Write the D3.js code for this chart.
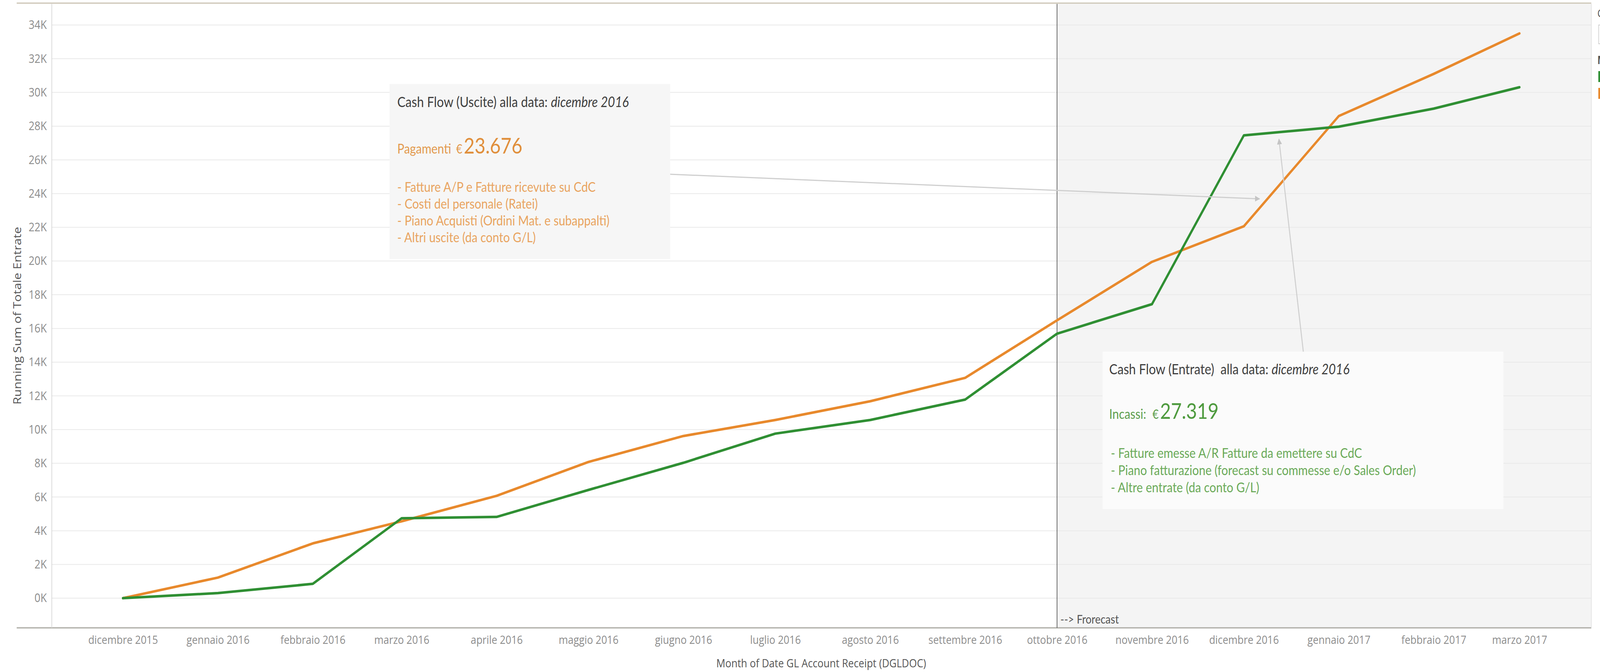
<!DOCTYPE html>
<html><head><meta charset="utf-8">
<script src="https://cdn.jsdelivr.net/npm/d3@7"></script>
<style>html,body{margin:0;padding:0;background:#fff;overflow:hidden} svg{display:block;width:100vw;height:100vh}</style>
</head><body>
<script>
// ---- data ----
const months = ["2015-12","2016-01","2016-02","2016-03","2016-04","2016-05","2016-06","2016-07","2016-08","2016-09","2016-10","2016-11","2016-12","2017-01","2017-02","2017-03"];
const monthLabels = ["dicembre 2015","gennaio 2016","febbraio 2016","marzo 2016","aprile 2016","maggio 2016","giugno 2016","luglio 2016","agosto 2016","settembre 2016","ottobre 2016","novembre 2016","dicembre 2016","gennaio 2017","febbraio 2017","marzo 2017"];
const entrate = [0, 300, 850, 4740, 4820, 6420, 8030, 9760, 10570, 11780, 15690, 17440, 27450, 27970, 29040, 30310];
const uscite  = [0, 1220, 3250, 4560, 6070, 8080, 9620, 10570, 11680, 13070, 16480, 19950, 22060, 28600, 31100, 33500];
const yTicks = [0,2000,4000,6000,8000,10000,12000,14000,16000,18000,20000,22000,24000,26000,28000,30000,32000,34000];
const yTickLabels = ["0K","2K","4K","6K","8K","10K","12K","14K","16K","18K","20K","22K","24K","26K","28K","30K","32K","34K"];
const forecastStart = "2016-10";
const xTitle = "Month of Date GL Account Receipt (DGLDOC)";
const yTitle = "Running Sum of Totale Entrate";

// ---- layout ----
const W = 4789, H = 1720;
const L = 155, R = 4763, T = 10, B = 1607;
const parse = d3.timeParse("%Y-%m");
const dates = months.map(parse);

const svg = d3.select("body").append("svg")
  .attr("viewBox", `0 0 ${W} ${H}`).attr("preserveAspectRatio", "none");

const x = d3.scaleTime().domain([dates[0], dates[dates.length-1]]).range([368, 4548]);
const y = d3.scaleLinear().domain([0, 34000]).range([1531, 64]);

// forecast shaded region
const fx = x(parse(forecastStart));
svg.append("rect").attr("x", fx).attr("y", T).attr("width", R - fx).attr("height", B - T).attr("fill", "#f4f4f4");

// gridlines
svg.append("g").selectAll("line").data(yTicks).join("line")
  .attr("x1", L).attr("x2", R).attr("y1", d => y(d)).attr("y2", d => y(d))
  .attr("stroke", "#e9e9e9").attr("stroke-width", 2);

// frame lines
svg.append("line").attr("x1", 50).attr("x2", R).attr("y1", 8).attr("y2", 8).attr("stroke", "#cbc4b4").attr("stroke-width", 3);
svg.append("line").attr("x1", 50).attr("x2", R).attr("y1", B).attr("y2", B).attr("stroke", "#aaa9a2").attr("stroke-width", 3);
svg.append("line").attr("x1", L).attr("x2", L).attr("y1", T).attr("y2", B).attr("stroke", "#d4d4d4").attr("stroke-width", 2);
svg.append("line").attr("x1", R).attr("x2", R).attr("y1", T).attr("y2", B).attr("stroke", "#e2e2e2").attr("stroke-width", 2);
svg.append("line").attr("x1", fx).attr("x2", fx).attr("y1", T).attr("y2", B).attr("stroke", "#555").attr("stroke-width", 2);

// forecast label
svg.append("text").attr("x", fx + 10).attr("y", 1596).attr("font-family", "Lato").attr("font-size", 31).attr("fill", "#555").text("--> Frorecast");

// y axis
const yAxis = svg.append("g").attr("transform", `translate(${L},0)`)
  .call(d3.axisLeft(y).tickValues(yTicks).tickFormat((d,i) => yTickLabels[i]).tickSize(0).tickPadding(15));
yAxis.select(".domain").remove();
yAxis.selectAll("text").attr("font-family", "Open Sans").attr("font-size", 31).attr("fill", "#8c8c8c");

// x axis
const xAxis = svg.append("g").attr("transform", `translate(0,${B})`)
  .call(d3.axisBottom(x).tickValues(dates).tickFormat((d,i) => monthLabels[i]).tickSize(0).tickPadding(20));
xAxis.select(".domain").remove();
xAxis.selectAll("text").attr("font-family", "Open Sans").attr("font-size", 30).attr("fill", "#8c8c8c");

// axis titles
svg.append("text").attr("x", 2458).attr("y", 1708).attr("text-anchor", "middle")
  .attr("font-family", "Open Sans").attr("font-size", 30).attr("fill", "#555").text(xTitle);
svg.append("text").attr("transform", "translate(63,808) rotate(-90)").attr("text-anchor", "middle")
  .attr("font-family", "Open Sans").attr("font-size", 32).attr("fill", "#555").text(yTitle);

// arrow marker
const defs = svg.append("defs");
defs.append("marker").attr("id", "arr").attr("viewBox", "0 0 10 10").attr("refX", 9).attr("refY", 5)
  .attr("markerWidth", 5).attr("markerHeight", 5).attr("orient", "auto")
  .append("path").attr("d", "M0,0L10,5L0,10z").attr("fill", "#c4c4c4");

// lines
const line = d3.line().x(d => x(d.date)).y(d => y(d.v));
const seriesU = dates.map((d,i) => ({date: d, v: uscite[i]}));
const seriesE = dates.map((d,i) => ({date: d, v: entrate[i]}));
svg.append("path").datum(seriesU).attr("d", line).attr("fill", "none").attr("stroke", "#e8892c").attr("stroke-width", 6.5).attr("stroke-linejoin", "round").attr("stroke-linecap", "round");
svg.append("path").datum(seriesE).attr("d", line).attr("fill", "none").attr("stroke", "#2f8f33").attr("stroke-width", 6.5).attr("stroke-linejoin", "round").attr("stroke-linecap", "round");

// annotation boxes
function box(bx, by, bw, bh, fill) {
  svg.append("rect").attr("x", bx).attr("y", by).attr("width", bw).attr("height", bh).attr("fill", fill);
}
const af = "Lato";
// box 1 (Uscite)
box(1166, 215, 840, 448, "#f6f6f6");
let t = svg.append("text").attr("x", 1189).attr("y", 274).attr("font-family", af).attr("font-size", 37).attr("fill", "#3f3f3f");
t.append("tspan").text("Cash Flow (Uscite) alla data: ");
t.append("tspan").attr("font-style", "italic").text("dicembre 2016");
t = svg.append("text").attr("x", 1189).attr("y", 393).attr("font-family", af).attr("fill", "#e39a4e");
t.append("tspan").attr("font-size", 35).text("Pagamenti ");
t.append("tspan").attr("font-size", 32).attr("dx", 6).text("€");
t.append("tspan").attr("font-size", 56).attr("dx", 4).attr("fill", "#e08f3c").text("23.676");
const b1 = ["- Fatture A/P e Fatture ricevute su CdC", "- Costi del personale (Ratei)", "- Piano Acquisti (Ordini Mat. e subappalti)", "- Altri uscite (da conto G/L)"];
b1.forEach((s, i) => svg.append("text").attr("x", 1189).attr("y", 491 + i * 43).attr("font-family", af).attr("font-size", 35).attr("fill", "#e9a460").text(s));

// box 2 (Entrate)
box(3300, 900, 1200, 403, "#fbfbfb");
t = svg.append("text").attr("x", 3320).attr("y", 958).attr("font-family", af).attr("font-size", 37).attr("fill", "#3f3f3f").attr("xml:space", "preserve");
t.append("tspan").text("Cash Flow (Entrate)  alla data: ");
t.append("tspan").attr("font-style", "italic").text("dicembre 2016");
t = svg.append("text").attr("x", 3320).attr("y", 1072).attr("font-family", af).attr("fill", "#5d9e4c");
t.append("tspan").attr("font-size", 35).text("Incassi: ");
t.append("tspan").attr("font-size", 32).attr("dx", 10).text("€");
t.append("tspan").attr("font-size", 56).attr("dx", 4).attr("fill", "#4e9a3e").text("27.319");
const b2 = ["- Fatture emesse A/R Fatture da emettere su CdC", "- Piano fatturazione (forecast su commesse e/o Sales Order)", "- Altre entrate (da conto G/L)"];
b2.forEach((s, i) => svg.append("text").attr("x", 3325).attr("y", 1172 + i * 44).attr("font-family", af).attr("font-size", 35).attr("fill", "#6aaa58").text(s));

// connector arrows
svg.append("line").attr("x1", 2006).attr("y1", 446).attr("x2", 3770).attr("y2", 509).attr("stroke", "#cfcfcf").attr("stroke-width", 3).attr("marker-end", "url(#arr)");
svg.append("line").attr("x1", 3901).attr("y1", 900).attr("x2", 3828).attr("y2", 356).attr("stroke", "#cfcfcf").attr("stroke-width", 3).attr("marker-end", "url(#arr)");

// legend (clipped at right edge, as in the reference)
const lg = svg.append("g").attr("transform", "translate(4781,0)");
lg.append("text").attr("x", 0).attr("y", 44).attr("font-family", "Open Sans").attr("font-size", 28).attr("fill", "#555").text("C");
lg.append("rect").attr("x", 4).attr("y", 64).attr("width", 200).attr("height", 48).attr("fill", "#fff").attr("stroke", "#cfcfcf").attr("stroke-width", 2);
lg.append("text").attr("x", 0).attr("y", 164).attr("font-family", "Open Sans").attr("font-weight", "bold").attr("font-size", 28).attr("fill", "#555").text("M");
lg.append("rect").attr("x", 3).attr("y", 182).attr("width", 30).attr("height", 28).attr("fill", "#2f8f33");
lg.append("rect").attr("x", 3).attr("y", 225).attr("width", 30).attr("height", 28).attr("fill", "#e8892c");
</script>
</body></html>
